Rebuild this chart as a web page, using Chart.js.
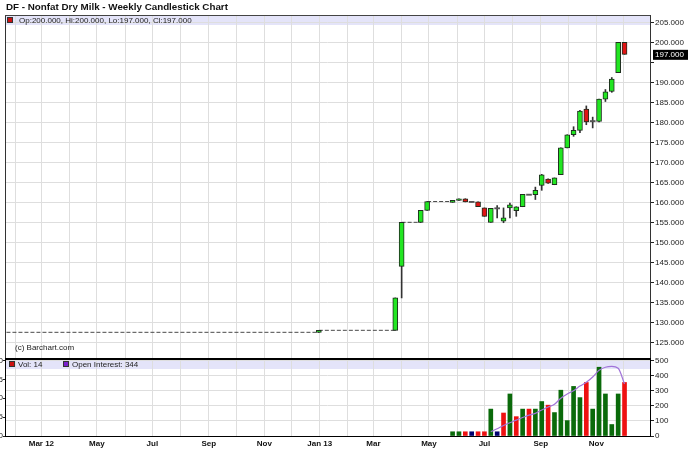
<!DOCTYPE html>
<html>
<head>
<meta charset="utf-8">
<title>DF - Nonfat Dry Milk - Weekly Candlestick Chart</title>
<script src="https://cdn.jsdelivr.net/npm/chart.js@4.4.1/dist/chart.umd.min.js"></script>
<style>
html, body { margin: 0; padding: 0; background: #fff; }
#wrap { position: relative; width: 688px; height: 449px; overflow: hidden; }
#chart { position: absolute; left: 0; top: 0; }
#title { position: absolute; left: 6px; top: 1px; line-height: 10px; font: bold 9.8px "Liberation Sans", Arial, sans-serif; color: #111; white-space: nowrap; }
</style>
</head>
<body>
<div id="wrap">
  <canvas id="chart" width="688" height="449"></canvas>
  <div id="title">DF - Nonfat Dry Milk - Weekly Candlestick Chart</div>
</div>
<script>
const FONT = '"Liberation Sans", Arial, Helvetica, sans-serif'
Chart.defaults.font.family = FONT
Chart.defaults.font.size = 8
Chart.defaults.color = '#1a1a1a'

// semanas con operaciones (lunes)
const dates = [
  '2012-01-16', '2012-12-31',
  '2013-03-25', '2013-04-01', '2013-04-22', '2013-04-29',
  '2013-05-27', '2013-06-03', '2013-06-10', '2013-06-17', '2013-06-24',
  '2013-07-01', '2013-07-08', '2013-07-15', '2013-07-22', '2013-07-29',
  '2013-08-05', '2013-08-12', '2013-08-19', '2013-08-26',
  '2013-09-02', '2013-09-09', '2013-09-16', '2013-09-23', '2013-09-30',
  '2013-10-07', '2013-10-14', '2013-10-21', '2013-10-28',
  '2013-11-04', '2013-11-11', '2013-11-18', '2013-11-25', '2013-12-02'
]
const open = [
  127.5, 127.5,
  128.0, 144.0, 155.0, 158.0,
  160.0, 160.5, 160.9, 160.1, 160.1,
  158.6, 155.0, 158.5, 155.3, 158.6,
  157.9, 158.9, 161.9, 161.9,
  164.2, 165.8, 164.4, 166.9, 173.6,
  176.9, 178.0, 183.3, 180.3,
  180.2, 185.8, 187.7, 192.4, 200.0
]
const high = [
  127.5, 128.0,
  136.1, 155.0, 158.0, 160.2,
  160.5, 160.9, 160.9, 160.1, 160.1,
  158.6, 158.5, 159.2, 158.6, 159.8,
  158.9, 162.0, 161.9, 163.8,
  167.0, 165.9, 166.1, 173.6, 176.9,
  178.9, 183.0, 184.1, 181.3,
  185.8, 188.2, 191.2, 200.0, 200.0
]
const low = [
  127.5, 127.5,
  128.0, 136.1, 155.0, 158.0,
  160.0, 160.5, 160.1, 160.1, 158.9,
  156.5, 155.0, 156.1, 154.9, 156.1,
  156.5, 158.9, 161.9, 160.7,
  163.0, 164.7, 164.4, 166.9, 173.6,
  176.5, 177.4, 179.4, 178.6,
  180.1, 185.2, 187.5, 192.4, 197.0
]
const close = [
  127.5, 128.0,
  136.1, 155.0, 158.0, 160.2,
  160.5, 160.9, 160.1, 160.1, 158.9,
  156.5, 158.5, 158.5, 156.1, 159.4,
  158.9, 162.0, 161.9, 163.0,
  166.9, 164.8, 166.1, 173.6, 176.9,
  178.0, 182.8, 180.1, 180.3,
  185.8, 187.6, 190.8, 200.0, 197.0
]
const volume = [
  null, null,
  null, null, null, null,
  28, 28, 28, 28, 28,
  28, 178, 28, 152, 278,
  128, 178, 178, 178,
  228, 204, 155, 303, 102,
  328, 254, 354, 178,
  455, 278, 76, 278, 354
]
const openInterest = [
  null, null,
  null, null, null, null,
  null, null, null, null, null,
  null, 28, 48, 70, 88,
  105, 122, 138, 150,
  172, 192, 210, 250, 278,
  300, 330, 355, 390,
  435, 455, 460, 448, 344
]
const legendVolume = 14

const monthStarts = [
  '2012-02-01', '2012-03-01', '2012-04-01', '2012-05-01', '2012-06-01', '2012-07-01',
  '2012-08-01', '2012-09-01', '2012-10-01', '2012-11-01', '2012-12-01', '2013-01-01',
  '2013-02-01', '2013-03-01', '2013-04-01', '2013-05-01', '2013-06-01', '2013-07-01',
  '2013-08-01', '2013-09-01', '2013-10-01', '2013-11-01', '2013-12-01'
]
const monthLabels = [
  '', 'Mar 12', '', 'May', '', 'Jul', '', 'Sep', '', 'Nov', '', 'Jan 13',
  '', 'Mar', '', 'May', '', 'Jul', '', 'Sep', '', 'Nov', ''
]
const priceTicks = [125, 130, 135, 140, 145, 150, 155, 160, 165, 170, 175, 180, 185, 190, 195, 200, 205]
const volumeTicks = [0, 100, 200, 300, 400, 500]
const interestTicks = [0, 125, 250, 375, 500]

const toDay = s => Date.parse(s) / 864e5
const xs = dates.map(toDay)
const last = dates.length - 1

// subida / bajada respecto al cierre anterior
const change = i => i === 0 ? 0 : Math.sign(Math.round((close[i] - close[i - 1]) * 100))

const candleBodies = xs.map((x, i) => ({
  x, y: open[i] === close[i] ? [open[i] - 0.15, open[i] + 0.15] : [open[i], close[i]]
}))
const candleRanges = xs.map((x, i) => ({ x, y: [low[i], high[i]] }))

// semanas sin operaciones: linea punteada al ultimo cierre
const gapSegments = []
for (let i = 1; i < xs.length; i++) {
  if (xs[i] - xs[i - 1] > 7) {
    gapSegments.push({ x: xs[i - 1], y: close[i - 1] }, { x: xs[i], y: close[i - 1] }, { x: xs[i], y: null })
  }
}

const volumeBars = xs.map((x, i) => ({ x, y: volume[i], c: change(i) })).filter(p => p.y !== null)
const interestLine = xs.map((x, i) => ({ x, y: openInterest[i] })).filter(p => p.y !== null)

const bodyColor = i => close[i] > open[i] ? '#22e622' : close[i] < open[i] ? '#e01414' : '#555'

const panelDecor = {
  id: 'panelDecor',
  beforeDraw(chart) {
    const { ctx, chartArea: a, scales: { yv } } = chart
    ctx.save()
    ctx.fillStyle = '#e4e4f9'
    ctx.fillRect(a.left, a.top + 1, a.width, 9)
    ctx.fillRect(a.left, yv.top + 2, a.width, 9)
    ctx.restore()
  },
  afterDraw(chart) {
    const { ctx, chartArea: a, scales: { y, yv } } = chart
    ctx.save()
    ctx.fillStyle = '#444'
    ctx.fillRect(a.left, a.top, a.width, 1)
    ctx.fillStyle = '#000'
    ctx.fillRect(a.left, yv.top, a.width, 2)

    ctx.font = '8px ' + FONT
    ctx.textBaseline = 'middle'
    const square = (x, yc, color) => {
      ctx.fillStyle = color
      ctx.fillRect(x, yc - 3, 6, 6)
      ctx.strokeStyle = '#333'
      ctx.lineWidth = 1
      ctx.strokeRect(x + 0.5, yc - 2.5, 5, 5)
    }
    square(a.left + 2, a.top + 5, '#cc1111')
    ctx.fillStyle = '#222'
    ctx.fillText(`Op:${open[last].toFixed(3)}, Hi:${high[last].toFixed(3)}, Lo:${low[last].toFixed(3)}, Cl:${close[last].toFixed(3)}`, a.left + 14, a.top + 5.5)

    const vy = yv.top + 6
    square(a.left + 4, vy, '#cc1111')
    ctx.fillStyle = '#222'
    ctx.fillText('Vol: ' + legendVolume, a.left + 13, vy + 0.5)
    square(a.left + 58, vy, '#7a22cc')
    ctx.fillStyle = '#222'
    ctx.fillText('Open Interest: ' + openInterest[last], a.left + 67, vy + 0.5)

    ctx.fillText('(c) Barchart.com', a.left + 10, yv.top - 10)

    // recuadro del ultimo precio
    const py = y.getPixelForValue(close[last])
    ctx.fillStyle = '#000'
    ctx.fillRect(a.right + 3, py - 4.5, 35, 10)
    ctx.fillStyle = '#fff'
    ctx.fillText(close[last].toFixed(3), a.right + 5, py + 0.5)
    ctx.restore()
  }
}

const fixWidth = w => s => { s.width = w }

new Chart(document.getElementById('chart'), {
  type: 'bar',
  data: {
    datasets: [
      { type: 'line', data: interestLine, yAxisID: 'yoi', borderColor: '#a173d9', borderWidth: 1.2, pointRadius: 0, cubicInterpolationMode: 'monotone', order: 0 },
      { type: 'bar', data: volumeBars, yAxisID: 'yv', barThickness: 4, grouped: false, order: 1,
        backgroundColor: ctx => ctx.raw.c > 0 ? '#0a6a0a' : ctx.raw.c < 0 ? '#ee1111' : '#000070' },
      { type: 'bar', data: candleBodies, yAxisID: 'y', barThickness: 5, grouped: false, borderSkipped: false, order: 2,
        backgroundColor: ctx => bodyColor(ctx.dataIndex),
        borderColor: '#1e2e1e',
        borderWidth: ctx => open[ctx.dataIndex] === close[ctx.dataIndex] ? 0 : 1 },
      { type: 'bar', data: candleRanges, yAxisID: 'y', barThickness: 1, grouped: false, backgroundColor: '#333', order: 3 },
      { type: 'line', data: gapSegments, yAxisID: 'y', borderColor: '#4a4a4a', borderWidth: 1, borderDash: [4, 2], pointRadius: 0, order: 4 }
    ]
  },
  options: {
    responsive: false,
    animation: false,
    layout: { padding: { top: 15 } },
    plugins: { legend: { display: false }, tooltip: { enabled: false } },
    scales: {
      x: {
        type: 'linear', position: 'bottom', offset: false,
        min: toDay('2012-01-21'), max: toDay('2013-12-30'),
        afterBuildTicks: s => { s.ticks = monthStarts.map(d => ({ value: toDay(d) })) },
        ticks: { autoSkip: false, maxRotation: 0, padding: 3, color: '#111', font: { size: 8, weight: 'bold' }, callback: (v, i) => monthLabels[i] },
        grid: { color: '#dedede', drawTicks: false, offset: false },
        border: { color: '#000' },
        afterFit: s => { s.height = 13 }
      },
      y: {
        type: 'linear', position: 'right', stack: 'right', stackWeight: 343,
        min: 121.08, max: 206.83,
        afterBuildTicks: s => { s.ticks = priceTicks.map(v => ({ value: v })) },
        // la etiqueta tapada por el recuadro del ultimo precio no se muestra
        ticks: { autoSkip: false, padding: 1, callback: v => Math.abs(v - close[last]) < 2.5 ? '' : v.toFixed(3) },
        grid: { color: '#dedede', tickColor: '#222', tickLength: 4 },
        border: { color: '#333' },
        afterFit: fixWidth(38)
      },
      yv: {
        type: 'linear', position: 'right', stack: 'right', stackWeight: 78,
        min: 0, max: 516,
        afterBuildTicks: s => { s.ticks = volumeTicks.map(v => ({ value: v })) },
        ticks: { autoSkip: false, padding: 1, callback: v => String(v) },
        grid: { color: '#dedede', tickColor: '#222', tickLength: 4 },
        border: { color: '#000' },
        afterFit: fixWidth(38)
      },
      yoi: {
        type: 'linear', position: 'left', stack: 'left', stackWeight: 78,
        min: 0, max: 516,
        afterBuildTicks: s => { s.ticks = interestTicks.map(v => ({ value: v })) },
        ticks: { autoSkip: false, padding: 0, callback: v => String(v) },
        grid: { drawOnChartArea: false, tickColor: '#222', tickLength: 2 },
        border: { color: '#000' },
        afterFit: fixWidth(5)
      },
      yl: {
        type: 'linear', position: 'left', stack: 'left', stackWeight: 343,
        min: 121.08, max: 206.83,
        ticks: { display: false },
        grid: { display: false },
        border: { color: '#333' },
        afterFit: fixWidth(5)
      }
    }
  },
  plugins: [panelDecor]
})
</script>
</body>
</html>
